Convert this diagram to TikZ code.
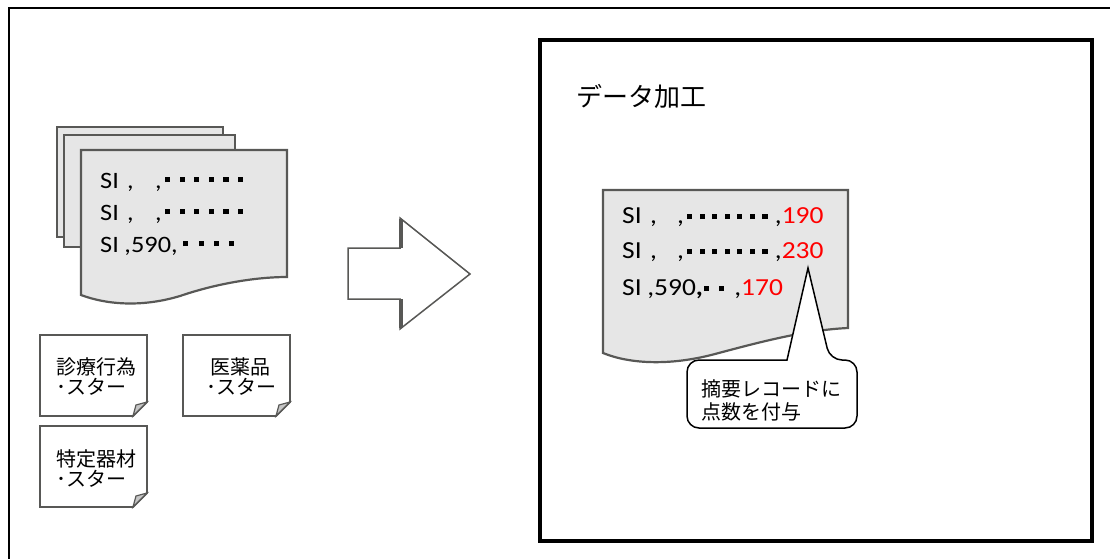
\documentclass[tikz,border=0pt]{standalone}
\usepackage{fontspec}
\usepackage{xcolor}
\setmainfont{Carlito}
\newfontfamily\jpfont{Noto Sans CJK JP}

\definecolor{pagegray}{RGB}{230,230,230}
\definecolor{edgegray}{RGB}{88,88,86}
\definecolor{pointred}{RGB}{255,0,0}

\tikzset{
  docpage/.style={fill=pagegray, draw=edgegray, line width=2.2pt},
  memo/.style={fill=white, draw=edgegray, line width=1.8pt},
  fold/.style={fill=gray!45, draw=edgegray, line width=1.2pt},
  recline/.style={anchor=base west, inner sep=0pt},
  jptext/.style={anchor=base west, inner sep=0pt, font=\jpfont\fontsize{20}{21}\selectfont},
}

% square dots of a record line: count, pitch, raise
\newcommand\pdots[3]{\foreach \i in {1,...,#1}{\makebox[#2][l]{\rule[#3]{4.6pt}{4.6pt}}}}
\newcommand\wide[1]{\scalebox{1.12}[1]{#1}}

\begin{document}
\begin{tikzpicture}[x=1pt, y=-1pt]
        \useasboundingbox (0,0) rectangle (1110,558);
        % frames
        \draw[line width=2pt] (9,575) |- (1130,8);
        \draw[line width=4pt] (539.5,39.5) rectangle (1091.5,541);
        \node[anchor=base west, inner sep=0pt, font=\jpfont\fontsize{26}{28}\selectfont] (title) at (576,106) {データ加工};
        % receipt stack
        \filldraw[docpage] (57,127) rectangle (223,237);
        \filldraw[docpage] (64,135) rectangle (235,247);
        \filldraw[docpage] (81,150) -- (287,150) -- (287,277)
            .. controls (255,277) and (215,284) .. (180,296)
            .. controls (140,308) and (105,304) .. (81,295) -- cycle;
        \begin{scope}[font=\fontsize{23.5}{26}\selectfont]
            \node[recline] (inA) at (100,188) {\wide{\makebox[24pt][l]{SI}\makebox[25pt][l]{,}\makebox[9pt][l]{,}\pdots{6}{13pt}{6pt}}};
            \node[recline] (inB) at (100,220) {\wide{\makebox[24pt][l]{SI}\makebox[25pt][l]{,}\makebox[9pt][l]{,}\pdots{6}{13pt}{6pt}}};
            \node[recline] (inC) at (100,252) {\wide{SI\hspace{5pt},590,\hspace{5pt}\pdots{4}{13.6pt}{6pt}}};
        \end{scope}
        % master files
        \filldraw[memo] (40,335) -- (147,335) -- (147,402) -- (133,416) -- (40,416) -- cycle;
        \filldraw[fold] (133,416) -- (136,405) -- (147,402) -- cycle;
        \filldraw[memo] (183,335) -- (290,335) -- (290,402) -- (276,416) -- (183,416) -- cycle;
        \filldraw[fold] (276,416) -- (279,405) -- (290,402) -- cycle;
        \filldraw[memo] (40,426) -- (147,426) -- (147,493) -- (133,507) -- (40,507) -- cycle;
        \filldraw[fold] (133,507) -- (136,496) -- (147,493) -- cycle;
        \node[jptext] (actA) at (56,374) {診療行為};
        \node[jptext] (actB) at (56,394) {･スター};
        \node[jptext] (drugA) at (210,374) {医薬品};
        \node[jptext] (drugB) at (206,394) {･スター};
        \node[jptext] (matA) at (56,466) {特定器材};
        \node[jptext] (matB) at (56,486) {･スター};
        % block arrow
        \filldraw[fill=white, draw=edgegray, line width=1.5pt] (348,248) -- (400,248) -- (400,218)
            -- (470,274) -- (400,329) -- (400,299) -- (348,299) -- cycle;
        \draw[edgegray, line width=3.5pt] (401,219) -- (401,248) (401,299) -- (401,328);
        % processed receipt
        \filldraw[docpage] (603,190) -- (848,190) -- (848,328)
            .. controls (805,330) and (760,342) .. (715,354)
            .. controls (670,366) and (630,364) .. (603,353) -- cycle;
        \begin{scope}[font=\fontsize{24.5}{27}\selectfont]
            \node[recline] (outA) at (622,223) {\wide{\makebox[25pt][l]{SI}\makebox[24pt][l]{,}\makebox[9pt][l]{,}\pdots{7}{11.2pt}{4pt},\textcolor{pointred}{190}}};
            \node[recline] (outB) at (622,258) {\wide{\makebox[25pt][l]{SI}\makebox[24pt][l]{,}\makebox[9pt][l]{,}\pdots{7}{11.2pt}{4pt},\textcolor{pointred}{230}}};
            \node[recline] (outC) at (622,295) {\wide{SI\hspace{5pt},590\textbf{,}\hspace{1pt}\pdots{2}{13pt}{4pt}\hspace{1pt},\textcolor{pointred}{170}}};
        \end{scope}
        % callout
        \filldraw[fill=white, line width=1.5pt] (787,360) [rounded corners=12pt] -- (687,360) -- (687,428)
            -- (857,428) -- (857,360) -- (830,360) [sharp corners] -- (808,268) -- cycle;
        \node[jptext] (noteA) at (701,396) {摘要レコードに};
        \node[jptext] (noteB) at (701,419) {点数を付与};
    \end{tikzpicture}
\end{document}
